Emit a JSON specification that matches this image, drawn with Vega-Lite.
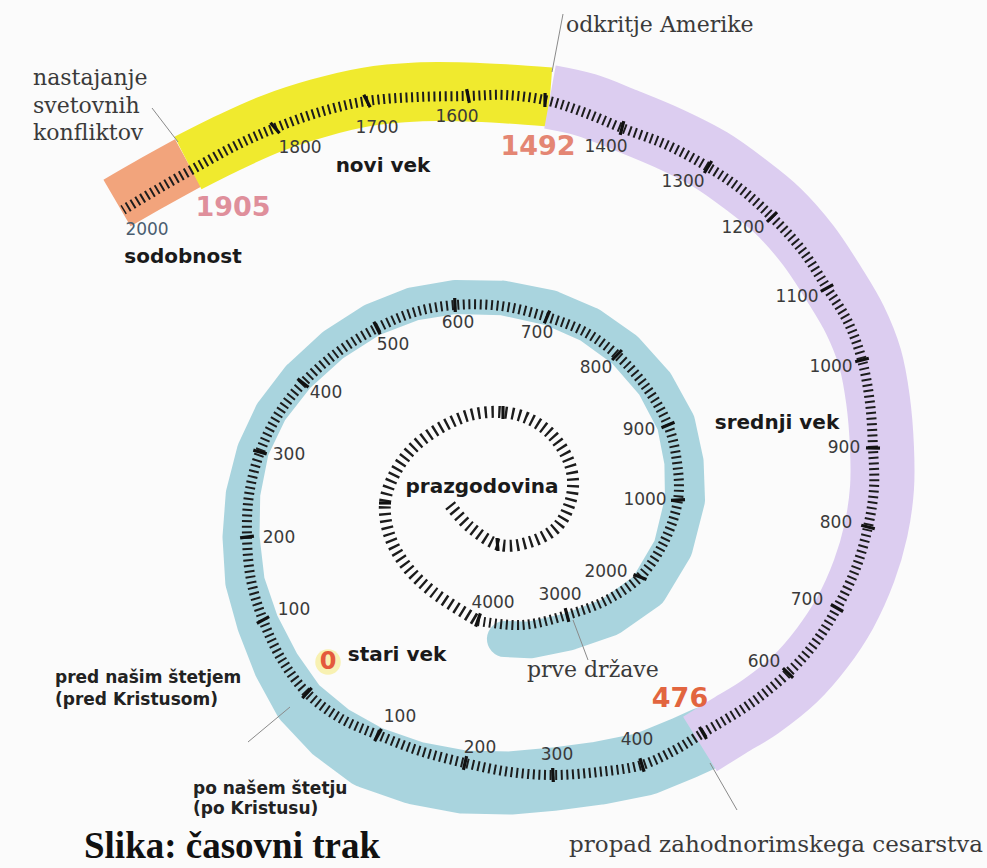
{
  "$schema": "https://vega.github.io/schema/vega-lite/v6.json",
  "width": 987,
  "height": 868,
  "autosize": {"type": "none"},
  "padding": 0,
  "background": "#fbfbfb",
  "config": {"view": {"stroke": null}},
  "datasets": {
    "ruler": [
      {"i":1,"x":450,"y":505,"seg":"in"},{"i":2,"x":470,"y":527,"seg":"in"},{"i":3,"x":500,"y":545,"seg":"in"},{"i":4,"x":530,"y":542,"seg":"in"},{"i":5,"x":557,"y":527,"seg":"in"},{"i":6,"x":570,"y":503,"seg":"in"},{"i":7,"x":573,"y":480,"seg":"in"},{"i":8,"x":567,"y":457,"seg":"in"},{"i":9,"x":550,"y":433,"seg":"in"},{"i":10,"x":527,"y":418,"seg":"in"},{"i":11,"x":500,"y":412,"seg":"in"},{"i":12,"x":470,"y":415,"seg":"in"},{"i":13,"x":440,"y":428,"seg":"in"},{"i":14,"x":413,"y":448,"seg":"in"},{"i":15,"x":395,"y":473,"seg":"in"},{"i":16,"x":385,"y":503,"seg":"in"},{"i":17,"x":390,"y":537,"seg":"in"},{"i":18,"x":407,"y":567,"seg":"in"},{"i":19,"x":433,"y":592,"seg":"in"},{"i":20,"x":478,"y":621,"seg":"in"},
      {"i":20,"x":478,"y":621,"seg":"main"},{"i":21,"x":522,"y":625,"seg":"main"},{"i":22,"x":567,"y":615,"seg":"main"},{"i":23,"x":607,"y":600,"seg":"main"},{"i":24,"x":640,"y":577,"seg":"main"},{"i":25,"x":664,"y":542,"seg":"main"},{"i":26,"x":678,"y":500,"seg":"main"},{"i":27,"x":677,"y":462,"seg":"main"},{"i":28,"x":668,"y":425,"seg":"main"},{"i":29,"x":646,"y":387,"seg":"main"},{"i":30,"x":617,"y":355,"seg":"main"},{"i":31,"x":585,"y":332,"seg":"main"},{"i":32,"x":547,"y":317,"seg":"main"},{"i":33,"x":501,"y":306,"seg":"main"},{"i":34,"x":455,"y":305,"seg":"main"},{"i":35,"x":415,"y":312,"seg":"main"},{"i":36,"x":377,"y":328,"seg":"main"},{"i":37,"x":338,"y":352,"seg":"main"},{"i":38,"x":303,"y":383,"seg":"main"},{"i":39,"x":278,"y":415,"seg":"main"},{"i":40,"x":260,"y":452,"seg":"main"},{"i":41,"x":249,"y":495,"seg":"main"},{"i":42,"x":247,"y":537,"seg":"main"},{"i":43,"x":251,"y":580,"seg":"main"},{"i":44,"x":263,"y":620,"seg":"main"},{"i":45,"x":282,"y":660,"seg":"main"},{"i":46,"x":307,"y":693,"seg":"main"},{"i":47,"x":340,"y":718,"seg":"main"},{"i":48,"x":378,"y":735,"seg":"main"},{"i":49,"x":420,"y":751,"seg":"main"},{"i":50,"x":465,"y":763,"seg":"main"},{"i":51,"x":510,"y":772,"seg":"main"},{"i":52,"x":553,"y":775,"seg":"main"},{"i":53,"x":598,"y":772,"seg":"main"},{"i":54,"x":642,"y":765,"seg":"main"},{"i":55,"x":675,"y":750,"seg":"main"},{"i":56,"x":703,"y":733,"seg":"main"},{"i":57,"x":750,"y":704,"seg":"main"},{"i":58,"x":788,"y":673,"seg":"main"},{"i":59,"x":815,"y":643,"seg":"main"},{"i":60,"x":837,"y":608,"seg":"main"},{"i":61,"x":856,"y":568,"seg":"main"},{"i":62,"x":868,"y":527,"seg":"main"},{"i":63,"x":874,"y":488,"seg":"main"},{"i":64,"x":873,"y":448,"seg":"main"},{"i":65,"x":870,"y":403,"seg":"main"},{"i":66,"x":862,"y":360,"seg":"main"},{"i":67,"x":848,"y":322,"seg":"main"},{"i":68,"x":827,"y":288,"seg":"main"},{"i":69,"x":802,"y":250,"seg":"main"},{"i":70,"x":772,"y":217,"seg":"main"},{"i":71,"x":742,"y":190,"seg":"main"},{"i":72,"x":708,"y":167,"seg":"main"},{"i":73,"x":667,"y":145,"seg":"main"},{"i":74,"x":622,"y":128,"seg":"main"},{"i":75,"x":583,"y":112,"seg":"main"},{"i":76,"x":545,"y":100,"seg":"main"},{"i":77,"x":505,"y":95,"seg":"main"},{"i":78,"x":468,"y":96,"seg":"main"},{"i":79,"x":418,"y":97,"seg":"main"},{"i":80,"x":367,"y":101,"seg":"main"},{"i":81,"x":320,"y":112,"seg":"main"},{"i":82,"x":275,"y":128,"seg":"main"},{"i":83,"x":235,"y":146,"seg":"main"},{"i":84,"x":195,"y":168,"seg":"main"},{"i":85,"x":158,"y":189,"seg":"main"},{"i":86,"x":123,"y":210,"seg":"main"}
    ],
    "outer": [
      {"i":1,"x":117,"y":203,"era":"orange"},{"i":2,"x":150,"y":184,"era":"orange"},{"i":3,"x":188,"y":163,"era":"orange"},
      {"i":3,"x":188,"y":163,"era":"yellow"},{"i":4,"x":230,"y":142,"era":"yellow"},{"i":5,"x":273,"y":123,"era":"yellow"},{"i":6,"x":319,"y":108,"era":"yellow"},{"i":7,"x":366,"y":97,"era":"yellow"},{"i":8,"x":417,"y":92,"era":"yellow"},{"i":9,"x":467,"y":92,"era":"yellow"},{"i":10,"x":508,"y":94,"era":"yellow"},{"i":11,"x":550,"y":97,"era":"yellow"},
      {"i":11,"x":550,"y":97,"era":"purple"},{"i":12,"x":586,"y":105,"era":"purple"},{"i":13,"x":625,"y":120,"era":"purple"},{"i":14,"x":668,"y":138,"era":"purple"},{"i":15,"x":711,"y":160,"era":"purple"},{"i":16,"x":745,"y":184,"era":"purple"},{"i":17,"x":778,"y":211,"era":"purple"},{"i":18,"x":808,"y":245,"era":"purple"},{"i":19,"x":834,"y":284,"era":"purple"},{"i":20,"x":855,"y":320,"era":"purple"},{"i":21,"x":870,"y":358,"era":"purple"},{"i":22,"x":878,"y":400,"era":"purple"},{"i":23,"x":882,"y":448,"era":"purple"},{"i":24,"x":882,"y":488,"era":"purple"},{"i":25,"x":876,"y":530,"era":"purple"},{"i":26,"x":864,"y":571,"era":"purple"},{"i":27,"x":845,"y":613,"era":"purple"},{"i":28,"x":822,"y":648,"era":"purple"},{"i":29,"x":795,"y":679,"era":"purple"},{"i":30,"x":760,"y":707,"era":"purple"},{"i":31,"x":729,"y":726,"era":"purple"},{"i":32,"x":700,"y":744,"era":"purple"}
    ],
    "blue": [
      {"t":-3900,"x":505,"y":639},{"t":-3500,"x":530,"y":640},{"t":-3000,"x":568,"y":632},{"t":-2500,"x":610,"y":617},{"t":-2000,"x":648,"y":590},{"t":-1500,"x":673,"y":548},{"t":-1000,"x":685,"y":500},{"t":-950,"x":684,"y":462},{"t":-900,"x":676,"y":423},{"t":-850,"x":655,"y":384},{"t":-800,"x":625,"y":350},{"t":-750,"x":590,"y":325},{"t":-700,"x":551,"y":308},{"t":-650,"x":503,"y":298},{"t":-600,"x":455,"y":297},{"t":-550,"x":413,"y":304},{"t":-500,"x":372,"y":320},{"t":-450,"x":333,"y":345},{"t":-400,"x":298,"y":377},{"t":-350,"x":271,"y":412},{"t":-300,"x":253,"y":450},{"t":-250,"x":243,"y":494},{"t":-200,"x":241,"y":537},{"t":-150,"x":245,"y":582},{"t":-100,"x":258,"y":624},{"t":-50,"x":277,"y":666},{"t":0,"x":300,"y":703},{"t":50,"x":332,"y":733},{"t":100,"x":369,"y":757},{"t":150,"x":415,"y":773},{"t":200,"x":463,"y":782},{"t":250,"x":510,"y":783},{"t":300,"x":555,"y":779},{"t":350,"x":600,"y":773},{"t":400,"x":645,"y":764},{"t":450,"x":684,"y":748},{"t":476,"x":706,"y":738}
    ],
    "majors": [
      {"x":270.5,"y":122.7,"x2":279.5,"y2":133.3},{"x":363.8,"y":94.8,"x2":370.2,"y2":107.2},{"x":466.6,"y":89.1,"x2":469.4,"y2":102.9},{"x":545.1,"y":93,"x2":544.9,"y2":107},{"x":623.8,"y":121.2,"x2":620.2,"y2":134.8},{"x":711.7,"y":161,"x2":704.3,"y2":173},{"x":777,"y":212.1,"x2":767,"y2":221.9},{"x":833.2,"y":284.7,"x2":820.8,"y2":291.3},{"x":868.8,"y":358.3,"x2":855.2,"y2":361.7},{"x":880,"y":448.2,"x2":866,"y2":447.8},{"x":874.8,"y":528.8,"x2":861.2,"y2":525.2},{"x":843.1,"y":611.5,"x2":830.9,"y2":604.5},{"x":793.1,"y":677.8,"x2":782.9,"y2":668.2},{"x":706.5,"y":739,"x2":699.5,"y2":727},{"x":644.1,"y":771.7,"x2":639.9,"y2":758.3},{"x":553.3,"y":782,"x2":552.7,"y2":768},{"x":463.4,"y":769.8,"x2":466.6,"y2":756.2},{"x":374.6,"y":741.1,"x2":381.4,"y2":728.9},{"x":302.3,"y":698.1,"x2":311.7,"y2":687.9},
      {"x":256.9,"y":623.3,"x2":269.1,"y2":616.7},{"x":240.1,"y":537.9,"x2":253.9,"y2":536.1},{"x":253.3,"y":450.1,"x2":266.7,"y2":453.9},{"x":297.5,"y":378.7,"x2":308.5,"y2":387.3},{"x":373.9,"y":321.7,"x2":380.1,"y2":334.3},{"x":454.7,"y":298,"x2":455.3,"y2":312},{"x":549.7,"y":310.6,"x2":544.3,"y2":323.4},{"x":621.9,"y":350,"x2":612.1,"y2":360},{"x":674.5,"y":422.3,"x2":661.5,"y2":427.7},{"x":685,"y":499.7,"x2":671,"y2":500.3},{"x":646.5,"y":579.5,"x2":633.5,"y2":574.5},{"x":568.8,"y":621.8,"x2":565.2,"y2":608.2},{"x":475.6,"y":626.6,"x2":480.4,"y2":613.4},
      {"x":503,"y":406,"x2":503,"y2":419},{"x":379,"y":503,"x2":391,"y2":503},{"x":497,"y":538,"x2":498,"y2":551}
    ],
    "leaders": [
      {"x":563,"y":14,"x2":552,"y2":72},{"x":152,"y":108,"x2":178,"y2":142},{"x":573,"y":620,"x2":588,"y2":660},{"x":710,"y":763,"x2":737,"y2":810},{"x":248,"y":742,"x2":290,"y2":707}
    ],
    "labels": [
      {"x":147,"y":230,"text":"2000","kind":"numblue"},
      {"x":300,"y":148,"text":"1800","kind":"num"},{"x":377,"y":128,"text":"1700","kind":"num"},{"x":457,"y":117,"text":"1600","kind":"num"},{"x":606,"y":147,"text":"1400","kind":"num"},{"x":683,"y":182,"text":"1300","kind":"num"},{"x":743,"y":228,"text":"1200","kind":"num"},{"x":797,"y":297,"text":"1100","kind":"num"},{"x":831,"y":367,"text":"1000","kind":"num"},{"x":844,"y":448,"text":"900","kind":"num"},{"x":836,"y":523,"text":"800","kind":"num"},{"x":807,"y":600,"text":"700","kind":"num"},{"x":764,"y":662,"text":"600","kind":"num"},{"x":637,"y":740,"text":"400","kind":"num"},{"x":557,"y":755,"text":"300","kind":"num"},{"x":480,"y":748,"text":"200","kind":"num"},{"x":400,"y":717,"text":"100","kind":"num"},
      {"x":294,"y":610,"text":"100","kind":"num"},{"x":279,"y":538,"text":"200","kind":"num"},{"x":289,"y":455,"text":"300","kind":"num"},{"x":326,"y":393,"text":"400","kind":"num"},{"x":393,"y":345,"text":"500","kind":"num"},{"x":458,"y":323,"text":"600","kind":"num"},{"x":537,"y":333,"text":"700","kind":"num"},{"x":596,"y":368,"text":"800","kind":"num"},{"x":639,"y":430,"text":"900","kind":"num"},{"x":645,"y":500,"text":"1000","kind":"num"},{"x":606,"y":572,"text":"2000","kind":"num"},{"x":560,"y":595,"text":"3000","kind":"num"},{"x":493,"y":603,"text":"4000","kind":"num"},
      {"x":183,"y":257,"text":"sodobnost","kind":"era"},{"x":383,"y":166,"text":"novi vek","kind":"era"},{"x":777,"y":423,"text":"srednji vek","kind":"era"},{"x":397,"y":655,"text":"stari vek","kind":"era"},{"x":482,"y":487,"text":"prazgodovina","kind":"era"},
      {"x":233,"y":208,"text":"1905","kind":"y1905"},{"x":538,"y":147,"text":"1492","kind":"y1492"},{"x":680,"y":699,"text":"476","kind":"y476"},{"x":328,"y":662,"text":"0","kind":"y0"},
      {"x":566,"y":25,"text":"odkritje Amerike","kind":"serif"},{"x":33,"y":78,"text":"nastajanje","kind":"serif"},{"x":33,"y":106,"text":"svetovnih","kind":"serif"},{"x":33,"y":133,"text":"konfliktov","kind":"serif"},{"x":527,"y":670,"text":"prve države","kind":"serif"},
      {"x":983,"y":845,"text":"propad zahodnorimskega cesarstva","kind":"serifR"},
      {"x":55,"y":678,"text":"pred našim štetjem","kind":"small"},{"x":55,"y":700,"text":"(pred Kristusom)","kind":"small"},{"x":193,"y":789,"text":"po našem štetju","kind":"small"},{"x":193,"y":809,"text":"(po Kristusu)","kind":"small"},
      {"x":84,"y":858,"text":"Slika: časovni trak","kind":"title"}
    ]
  },
  "encoding": {
    "x": {"field": "x", "type": "quantitative", "scale": {"domain": [0, 987], "nice": false, "zero": false}, "axis": null},
    "y": {"field": "y", "type": "quantitative", "scale": {"domain": [0, 868], "nice": false, "zero": false, "reverse": true}, "axis": null}
  },
  "layer": [
    {
      "data": {"name": "blue"},
      "mark": {"type": "trail", "color": "#a9d4de"},
      "encoding": {
        "order": {"field": "t", "type": "quantitative"},
        "size": {"field": "t", "type": "quantitative", "scale": {"domain": [-4000, -1000, -600, -300, -100, 0, 100], "range": [36, 40, 34, 32, 42, 52, 63], "clamp": true}, "legend": null}
      }
    },
    {
      "data": {"name": "outer"},
      "mark": {"type": "line", "interpolate": "catmull-rom", "strokeCap": "butt"},
      "encoding": {
        "order": {"field": "i", "type": "quantitative"},
        "color": {"field": "era", "type": "nominal", "scale": {"domain": ["orange", "yellow", "purple"], "range": ["#f2a47c", "#f0ea2e", "#dccdf0"]}, "legend": null},
        "strokeWidth": {"field": "era", "type": "ordinal", "scale": {"domain": ["orange", "yellow", "purple"], "range": [54, 64, 64]}, "legend": null}
      }
    },
    {
      "data": {"name": "ruler"},
      "transform": [{"filter": "datum.seg == 'in'"}],
      "mark": {"type": "line", "interpolate": "catmull-rom", "strokeDash": [2.4, 4.4], "strokeWidth": 12, "color": "#1c1c1c", "strokeCap": "butt"},
      "encoding": {"order": {"field": "i", "type": "quantitative"}}
    },
    {
      "data": {"name": "ruler"},
      "transform": [{"filter": "datum.seg == 'main'"}],
      "mark": {"type": "line", "interpolate": "catmull-rom", "strokeDash": [2, 3.6], "strokeWidth": 10, "color": "#1c1c1c", "strokeCap": "butt"},
      "encoding": {"order": {"field": "i", "type": "quantitative"}}
    },
    {
      "data": {"name": "majors"},
      "mark": {"type": "rule", "strokeWidth": 3.2, "color": "#111111"},
      "encoding": {"x2": {"field": "x2"}, "y2": {"field": "y2"}}
    },
    {
      "data": {"name": "leaders"},
      "mark": {"type": "rule", "strokeWidth": 1, "color": "#8a8a8a"},
      "encoding": {"x2": {"field": "x2"}, "y2": {"field": "y2"}}
    },
    {
      "data": {"name": "labels"},
      "transform": [{"filter": "datum.kind == 'y0'"}],
      "mark": {"type": "point", "shape": "circle", "filled": true, "size": 650, "color": "#f7efaa", "opacity": 0.9}
    },
    {
      "data": {"name": "labels"},
      "transform": [{"filter": "datum.kind == 'num'"}],
      "mark": {"type": "text", "font": "DejaVu Sans", "fontSize": 17, "color": "#3a3a3a", "align": "center", "baseline": "middle"},
      "encoding": {"text": {"field": "text"}}
    },
    {
      "data": {"name": "labels"},
      "transform": [{"filter": "datum.kind == 'numblue'"}],
      "mark": {"type": "text", "font": "DejaVu Sans", "fontSize": 17, "color": "#4a5d70", "align": "center", "baseline": "middle"},
      "encoding": {"text": {"field": "text"}}
    },
    {
      "data": {"name": "labels"},
      "transform": [{"filter": "datum.kind == 'era'"}],
      "mark": {"type": "text", "font": "DejaVu Sans", "fontWeight": "bold", "fontSize": 20, "color": "#1a1a1a", "align": "center", "baseline": "middle"},
      "encoding": {"text": {"field": "text"}}
    },
    {
      "data": {"name": "labels"},
      "transform": [{"filter": "datum.kind == 'y1905'"}],
      "mark": {"type": "text", "font": "DejaVu Sans", "fontWeight": "bold", "fontSize": 27, "color": "#df8f9b", "align": "center", "baseline": "middle"},
      "encoding": {"text": {"field": "text"}}
    },
    {
      "data": {"name": "labels"},
      "transform": [{"filter": "datum.kind == 'y1492'"}],
      "mark": {"type": "text", "font": "DejaVu Sans", "fontWeight": "bold", "fontSize": 27, "color": "#e48673", "align": "center", "baseline": "middle"},
      "encoding": {"text": {"field": "text"}}
    },
    {
      "data": {"name": "labels"},
      "transform": [{"filter": "datum.kind == 'y476'"}],
      "mark": {"type": "text", "font": "DejaVu Sans", "fontWeight": "bold", "fontSize": 27, "color": "#e2653f", "align": "center", "baseline": "middle"},
      "encoding": {"text": {"field": "text"}}
    },
    {
      "data": {"name": "labels"},
      "transform": [{"filter": "datum.kind == 'y0'"}],
      "mark": {"type": "text", "font": "DejaVu Sans", "fontWeight": "bold", "fontSize": 24, "color": "#e45a3c", "align": "center", "baseline": "middle"},
      "encoding": {"text": {"field": "text"}}
    },
    {
      "data": {"name": "labels"},
      "transform": [{"filter": "datum.kind == 'serif'"}],
      "mark": {"type": "text", "font": "DejaVu Serif", "fontSize": 22, "color": "#3a3a3a", "align": "left", "baseline": "middle"},
      "encoding": {"text": {"field": "text"}}
    },
    {
      "data": {"name": "labels"},
      "transform": [{"filter": "datum.kind == 'serifR'"}],
      "mark": {"type": "text", "font": "DejaVu Serif", "fontSize": 23, "color": "#3a3a3a", "align": "right", "baseline": "middle"},
      "encoding": {"text": {"field": "text"}}
    },
    {
      "data": {"name": "labels"},
      "transform": [{"filter": "datum.kind == 'small'"}],
      "mark": {"type": "text", "font": "DejaVu Sans", "fontWeight": "bold", "fontSize": 17, "color": "#222222", "align": "left", "baseline": "middle"},
      "encoding": {"text": {"field": "text"}}
    },
    {
      "data": {"name": "labels"},
      "transform": [{"filter": "datum.kind == 'title'"}],
      "mark": {"type": "text", "font": "Liberation Serif", "fontWeight": "bold", "fontSize": 37, "color": "#111111", "align": "left", "baseline": "alphabetic"},
      "encoding": {"text": {"field": "text"}}
    }
  ]
}
